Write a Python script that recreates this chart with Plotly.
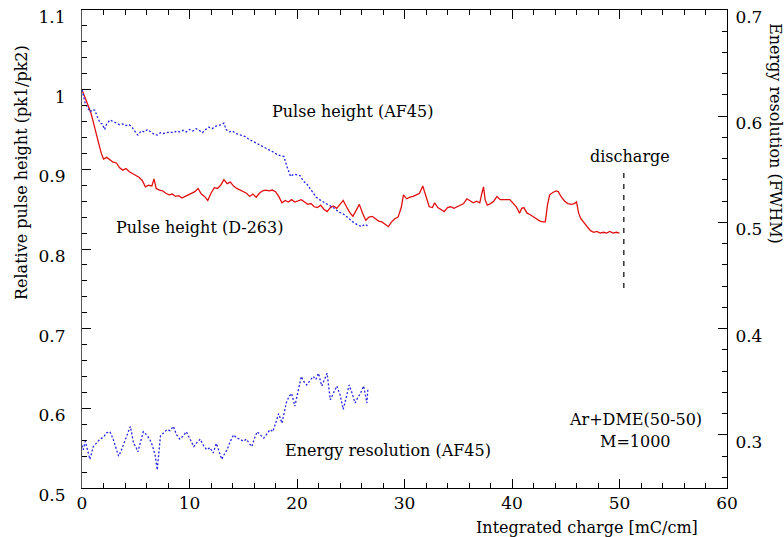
import plotly.graph_objects as go

# ---------------- data ----------------
red_x = [0, 0.2, 0.4, 0.6, 0.8, 1.0, 1.2, 1.4, 1.6, 1.8,
         2.0, 2.3, 2.6, 2.9, 3.2, 3.5, 3.8, 4.1, 4.4, 4.7,
         5.0, 5.3, 5.6, 5.9, 6.2, 6.5, 6.7, 6.9, 7.2, 7.5,
         7.8, 8.1, 8.4, 8.7, 9.0, 9.3, 9.6, 9.9, 10.2, 10.5,
         10.8, 11.1, 11.4, 11.7, 12.0, 12.3, 12.6, 12.9, 13.2, 13.5,
         13.8, 14.1, 14.4, 14.7, 15.0, 15.3, 15.6, 15.9, 16.2, 16.5,
         16.8, 17.1, 17.4, 17.7, 18.0, 18.3, 18.6, 18.9, 19.2, 19.5,
         19.8, 20.1, 20.4, 20.7, 21.0, 21.3, 21.6, 21.9, 22.2, 22.5,
         22.8, 23.1, 23.4, 23.7, 24.0, 24.3, 24.6, 24.9, 25.2, 25.5,
         25.8, 26.1, 26.4, 26.7, 27.0, 27.3, 27.6, 27.9, 28.2, 28.5,
         28.8, 29.1, 29.4, 29.7, 29.9, 30.2, 30.5, 30.8, 31.1, 31.4,
         31.7, 32.0, 32.3, 32.6, 32.8, 33.1, 33.4, 33.7, 34.0, 34.3,
         34.6, 34.9, 35.2, 35.5, 35.8, 36.1, 36.4, 36.7, 37.0, 37.2,
         37.35, 37.5, 37.7, 38.0, 38.3, 38.6, 38.9, 39.8, 40.1, 40.4,
         40.7, 40.9, 41.1, 41.4, 41.7, 42.0, 42.3, 42.6, 42.9, 43.1,
         43.3, 43.5, 43.8, 44.1, 44.3, 44.6, 44.9, 45.2, 45.5, 45.8,
         46.0, 46.2, 46.4, 46.7, 47.0, 47.3, 47.6, 47.9, 48.2, 48.5,
         48.8, 49.1, 49.4, 49.7, 50.0]
red_y = [1.000, 0.993, 0.985, 0.980, 0.972, 0.962, 0.950, 0.940, 0.930, 0.920,
         0.913, 0.915, 0.912, 0.909, 0.908, 0.902, 0.899, 0.901, 0.897, 0.895,
         0.893, 0.890, 0.886, 0.878, 0.880, 0.879, 0.888, 0.876, 0.874, 0.873,
         0.870, 0.868, 0.869, 0.866, 0.867, 0.864, 0.866, 0.868, 0.870, 0.872,
         0.876, 0.869, 0.866, 0.861, 0.870, 0.877, 0.876, 0.880, 0.887, 0.882,
         0.884, 0.879, 0.876, 0.874, 0.872, 0.870, 0.866, 0.869, 0.865, 0.870,
         0.873, 0.874, 0.873, 0.874, 0.872, 0.866, 0.858, 0.861, 0.859, 0.862,
         0.859, 0.861, 0.862, 0.859, 0.856, 0.857, 0.853, 0.852, 0.855, 0.850,
         0.847, 0.852, 0.854, 0.851, 0.856, 0.861, 0.853, 0.846, 0.841, 0.848,
         0.856, 0.845, 0.836, 0.840, 0.841, 0.838, 0.835, 0.834, 0.831, 0.828,
         0.834, 0.838, 0.840, 0.852, 0.868, 0.863, 0.865, 0.866, 0.868, 0.870,
         0.879, 0.866, 0.853, 0.852, 0.858, 0.852, 0.849, 0.847, 0.852, 0.853,
         0.851, 0.853, 0.855, 0.857, 0.863, 0.860, 0.858, 0.860, 0.858, 0.870,
         0.878, 0.862, 0.855, 0.857, 0.860, 0.866, 0.862, 0.862, 0.857, 0.853,
         0.845, 0.851, 0.852, 0.845, 0.843, 0.840, 0.837, 0.835, 0.834, 0.834,
         0.855, 0.868, 0.871, 0.873, 0.872, 0.865, 0.860, 0.857, 0.856, 0.857,
         0.859, 0.845, 0.838, 0.833, 0.828, 0.823, 0.821, 0.822, 0.820, 0.821,
         0.820, 0.822, 0.820, 0.821, 0.820]

af45_x = [0, 0.15, 0.3, 0.5, 0.75, 1.0, 1.2, 1.45, 1.7, 1.9,
          2.1, 2.3, 2.6, 2.9, 3.2, 3.5, 3.8, 4.1, 4.4, 4.7,
          5.0, 5.2, 5.5, 5.8, 6.1, 6.4, 6.7, 7.0, 7.3, 7.6,
          7.9, 8.2, 8.5, 8.8, 9.1, 9.4, 9.7, 10.0, 10.3, 10.6,
          10.9, 11.2, 11.5, 11.8, 12.1, 12.4, 12.7, 13.0, 13.2, 13.4,
          13.7, 14.0, 14.3, 14.6, 14.9, 15.2, 15.5, 15.8, 16.1, 16.4,
          16.7, 17.0, 17.3, 17.6, 17.9, 18.2, 18.5, 18.8, 19.0, 19.2,
          19.4, 19.7, 20.0, 20.3, 20.6, 20.9, 21.2, 21.5, 21.8, 22.1,
          22.4, 22.7, 23.0, 23.3, 23.6, 23.9, 24.2, 24.5, 24.8, 25.1,
          25.4, 25.7, 26.0, 26.3, 26.6]
af45_y = [1.000, 0.990, 0.983, 0.978, 0.972, 0.975, 0.974, 0.965, 0.958, 0.957,
          0.950, 0.957, 0.962, 0.960, 0.958, 0.956, 0.957, 0.955, 0.956, 0.952,
          0.946, 0.943, 0.948, 0.947, 0.950, 0.947, 0.944, 0.943, 0.946, 0.945,
          0.946, 0.947, 0.946, 0.948, 0.947, 0.949, 0.947, 0.950, 0.948, 0.951,
          0.949, 0.946, 0.950, 0.953, 0.951, 0.954, 0.955, 0.956, 0.958, 0.950,
          0.947, 0.948, 0.945, 0.944, 0.942, 0.941, 0.938, 0.936, 0.934, 0.932,
          0.929, 0.928, 0.925, 0.923, 0.921, 0.918, 0.917, 0.916, 0.906, 0.897,
          0.891, 0.894, 0.893, 0.892, 0.885, 0.882, 0.876, 0.870, 0.865, 0.862,
          0.859, 0.857, 0.855, 0.853, 0.850, 0.846, 0.845, 0.842, 0.838, 0.835,
          0.832, 0.830, 0.828, 0.831, 0.829]

eres_x = [0.0, 0.12, 0.3, 0.5, 0.74, 1.05, 1.35, 1.67, 2.0, 2.3,
          2.6, 2.9, 3.15, 3.4, 3.6, 3.8, 4.1, 4.5, 4.8, 5.0,
          5.2, 5.45, 5.7, 6.0, 6.3, 6.55, 6.8, 7.0, 7.15, 7.3,
          7.6, 7.9, 8.2, 8.5, 8.8, 9.1, 9.4, 9.7, 10.0, 10.4,
          10.7, 11.0, 11.3, 11.6, 11.9, 12.2, 12.5, 12.75, 13.0, 13.25,
          13.5, 13.8, 14.1, 14.4, 14.7, 15.0, 15.3, 15.55, 15.8, 16.05,
          16.3, 16.6, 16.9, 17.2, 17.5, 17.75, 18.0, 18.3, 18.6, 18.8,
          19.0, 19.25, 19.5, 19.8, 20.1, 20.4, 20.65, 20.9, 21.2, 21.5,
          21.75, 22.0, 22.3, 22.55, 22.8, 23.1, 23.4, 23.7, 24.0, 24.3,
          24.6, 24.85, 25.1, 25.4, 25.65, 25.9, 26.2, 26.5, 26.6]
eres_y = [0.290, 0.286, 0.294, 0.285, 0.277, 0.289, 0.292, 0.296, 0.298, 0.302,
          0.303, 0.296, 0.288, 0.280, 0.284, 0.289, 0.297, 0.308, 0.292, 0.289,
          0.284, 0.295, 0.303, 0.300, 0.296, 0.290, 0.281, 0.267, 0.285, 0.299,
          0.302, 0.305, 0.304, 0.308, 0.300, 0.296, 0.299, 0.303, 0.297, 0.289,
          0.293, 0.296, 0.290, 0.286, 0.288, 0.283, 0.292, 0.285, 0.277, 0.282,
          0.286, 0.294, 0.300, 0.297, 0.296, 0.294, 0.296, 0.292, 0.289, 0.297,
          0.303, 0.300, 0.297, 0.301, 0.305, 0.303, 0.311, 0.320, 0.311, 0.322,
          0.330, 0.336, 0.339, 0.327, 0.340, 0.355, 0.350, 0.347, 0.351, 0.355,
          0.352, 0.358, 0.346, 0.352, 0.358, 0.333, 0.340, 0.346, 0.338, 0.324,
          0.336, 0.347, 0.340, 0.330, 0.335, 0.339, 0.346, 0.330, 0.344]

discharge_x = [50.4, 50.4]
discharge_y = [0.751, 0.897]

x_range = [0, 60]
y_left_range = [0.5, 1.1]
y_right_range = [0.25, 0.7]
eps = 1e-6

FONT = "DejaVu Serif"
RED = "#e10f0f"
BLUE = "#2323e6"

fig = go.Figure()
fig.add_trace(go.Scatter(x=red_x, y=red_y, mode="lines",
                         line=dict(color=RED, width=1.3), showlegend=False))
fig.add_trace(go.Scatter(x=af45_x, y=af45_y, mode="lines",
                         line=dict(color=BLUE, width=1.3, dash="2px,2px"), showlegend=False))
fig.add_trace(go.Scatter(x=eres_x, y=eres_y, mode="lines", yaxis="y2",
                         line=dict(color=BLUE, width=1.3, dash="2px,2px"), showlegend=False))
fig.add_trace(go.Scatter(x=discharge_x, y=discharge_y, mode="lines",
                         line=dict(color="#333333", width=1.5, dash="5px,6px"), showlegend=False))

tickfont = dict(family=FONT, size=17, color="black")
common = dict(ticks="inside", ticklen=9, tickcolor="black", tickwidth=1,
              showline=True, linewidth=1, showgrid=False, zeroline=False,
              tickfont=tickfont, layer="above traces", ticklabeloverflow="allow")
fig.update_layout(
    template="none",
    width=784, height=537,
    margin=dict(l=82, r=57, t=10, b=49),
    paper_bgcolor="white", plot_bgcolor="rgba(0,0,0,0)",
    xaxis=dict(range=[x_range[0], x_range[1] + eps], dtick=10, tick0=0,
               linecolor="black", mirror="ticks", **common,
               minor=dict(dtick=2, ticks="inside", ticklen=5, tickcolor="black", showgrid=False)),
    yaxis=dict(range=[y_left_range[0] - eps, y_left_range[1] + eps], dtick=0.1, tick0=0.5,
               linecolor="#555555", ticklabelstandoff=12, ticklabelshift=7, **common,
               minor=dict(dtick=0.02, ticks="inside", ticklen=5, tickcolor="black", showgrid=False)),
    yaxis2=dict(range=[y_right_range[0], y_right_range[1] + eps], dtick=0.1, tick0=0.3,
                linecolor="black", overlaying="y", side="right",
                ticklabelstandoff=4, ticklabelshift=7, **common,
                minor=dict(dtick=0.02, ticks="inside", ticklen=5, tickcolor="black", showgrid=False)),
)

afont = dict(family=FONT, size=16, color="black")
notes = [
    ("Pulse height (AF45)", 25.2, 0.972),
    ("Pulse height (D-263)", 10.95, 0.8264),
    ("discharge", 51.0, 0.9155),
    ("Energy resolution (AF45)", 28.5, 0.5477),
    ("Ar+DME(50-50)", 51.5, 0.5855),
    ("M=1000", 51.5, 0.5590),
]
for txt, xx, yy in notes:
    fig.add_annotation(text=txt, x=xx, y=yy, xref="x", yref="y", showarrow=False,
                       xanchor="center", yanchor="middle", font=afont)

# axis titles
tfont = dict(family=FONT, size=16, color="black")
fig.add_annotation(text="Relative pulse height (pk1/pk2)", xref="paper", yref="paper",
                   x=-0.0946, y=0.661, textangle=-90, showarrow=False,
                   xanchor="center", yanchor="middle", font=tfont)
fig.add_annotation(text="Energy resolution (FWHM)", xref="paper", yref="paper",
                   x=1.0744, y=0.7406, textangle=90, showarrow=False,
                   xanchor="center", yanchor="middle", font=tfont)
fig.add_annotation(text="Integrated charge [mC/cm]", xref="paper", yref="paper",
                   x=0.958, y=-0.0816, showarrow=False,
                   xanchor="right", yanchor="middle", font=tfont)

fig.write_html("out.html")
